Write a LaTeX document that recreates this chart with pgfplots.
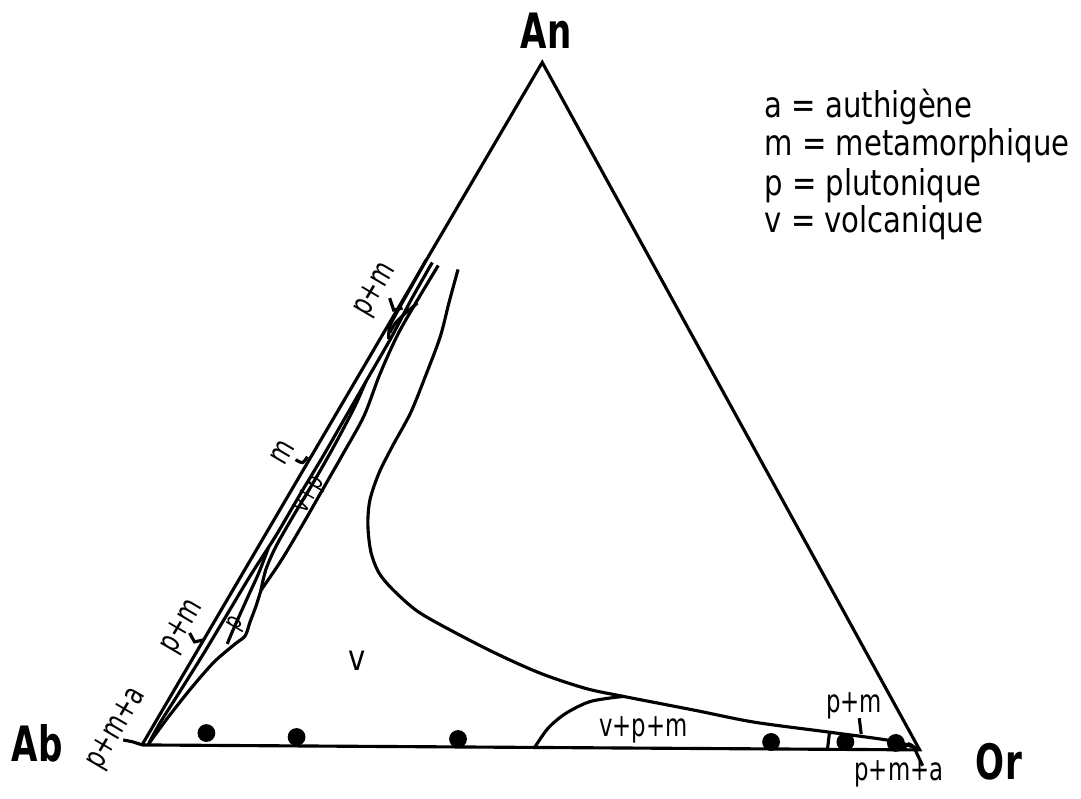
\documentclass[border=0pt]{standalone}
\usepackage{pgfplots}
\pgfplotsset{compat=1.18}
\usepackage{fontspec}
\setmainfont{DejaVu Sans}[FakeStretch=0.82]
\newfontfamily\vtx{DejaVu Sans}[FakeStretch=0.7]
\newfontfamily\nar{DejaVu Sans}[FakeStretch=0.72]
\newcommand\lbl{\fontsize{9.1}{10}\selectfont\nar}
\newcommand\sml{\fontsize{7.4}{8}\selectfont\nar}
\newcommand\leg{\fontsize{10.2}{11}\selectfont}
\newcommand\vertexfont{\fontsize{14}{15}\selectfont\vtx\bfseries}

\begin{document}
\begin{tikzpicture}
  \begin{axis}[
    scale only axis,
    width=10.81cm, height=8.03cm,
    xmin=0, xmax=1081, ymin=0, ymax=803,
    y dir=reverse,
    hide axis, clip=false,
    cycle list={{black, no markers}},
    every axis plot post/.append style={line width=0.9pt},
  ]
    \path (axis cs:0,0) rectangle (axis cs:1081,803);

    % triangle Ab - An - Or (image coordinates)
    \addplot coordinates {(142,752) (546,63) (927,757) (142,752)};

    % bands along the Ab-An side
    \addplot+[smooth] coordinates {(435,265) (414,302) (394,340) (371,380) (348,420)
      (325,460) (301,500) (277,541) (252,580) (228,620) (204,660) (179,700) (160,730) (149,750)};
    \addplot+[smooth] coordinates {(429,262) (414,289) (400,314) (392,330) (391,342)};
    \addplot+[smooth] coordinates {(392,336) (398,326) (408,316) (420,306)};
    \addplot+[smooth] coordinates {(441,268) (420,303) (400,338) (382,378) (366,420)
      (345,458) (325,493) (305,528) (283,565) (262,596)};
    \addplot+[smooth] coordinates {(262,596) (257,612) (251,628) (246,642) (236,650)
      (215,668) (193,693) (173,718) (158,738) (148,752)};
    \addplot+[smooth] coordinates {(368,385) (356,412) (336,450) (315,487) (294,522)
      (277,552) (267,575) (262,596)};
    \addplot+[smooth] coordinates {(270,552) (260,578) (250,600) (241,620) (233,638) (228,650)};

    % v boundary
    \addplot+[smooth] coordinates {(461,272) (452,305) (443,340) (428,380) (413,417)
      (395,450) (381,478) (372,505) (370,530) (373,557) (381,578) (395,595) (420,617)
      (455,637) (500,660) (545,680) (590,695) (628,703) (700,717) (760,729) (835,739)
      (900,748) (922,755)};
    % v+p+m field
    \addplot+[smooth] coordinates {(538,755) (552,735) (570,720) (595,708) (628,703)};

    % small fields near Or
    \addplot coordinates {(836,739) (834,756)};
    \addplot+[smooth] coordinates {(910,757) (916,751) (925,757)};

    % leaders
    \addplot coordinates {(866,725) (868,741)};
    \addplot coordinates {(922,756) (930,773)};
    \addplot coordinates {(392,301) (396,313) (405,311)};
    \addplot+[smooth] coordinates {(297,464) (304,467) (309,461)};
    \addplot coordinates {(190,639) (195,648) (204,646)};
    \addplot+[smooth] coordinates {(123,747) (133,749) (142,752)};

    % samples on the Ab-Or join
    \addplot[only marks, mark=*, mark size=2.1pt, black] coordinates {
      (207,740) (298,744) (461,746) (777,749) (852,749) (903,750)};

    % vertices
    \node[font=\vertexfont] at (axis cs:550,31) {An};
    \node[font=\vertexfont] at (axis cs:36,750) {Ab};
    \node[font=\vertexfont] at (axis cs:1007,769) {Or};

    % key
    \node[font=\leg, anchor=base west] at (axis cs:758,119) {a = authigène};
    \node[font=\leg, anchor=base west] at (axis cs:758,157) {m = metamorphique};
    \node[font=\leg, anchor=base west] at (axis cs:758,197) {p = plutonique};
    \node[font=\leg, anchor=base west] at (axis cs:758,235) {v = volcanique};

    % field labels
    \node[font=\leg] at (axis cs:359,667) {v};
    \node[font=\lbl] at (axis cs:648,737) {v+p+m};
    \node[font=\lbl] at (axis cs:861,713) {p+m};
    \node[font=\lbl] at (axis cs:906,781) {p+m+a};
    \node[font=\lbl, rotate=59.6] at (axis cs:378,293) {p+m};
    \node[font=\lbl, rotate=59.6] at (axis cs:284,457) {m};
    \node[font=\sml, rotate=59.6] at (axis cs:312,500) {v+p};
    \node[font=\lbl, rotate=59.6] at (axis cs:183,633) {p+m};
    \node[font=\sml, rotate=59.6] at (axis cs:237,630) {p};
    \node[font=\lbl, rotate=59.6] at (axis cs:117,736) {p+m+a};
  \end{axis}
\end{tikzpicture}
\end{document}
